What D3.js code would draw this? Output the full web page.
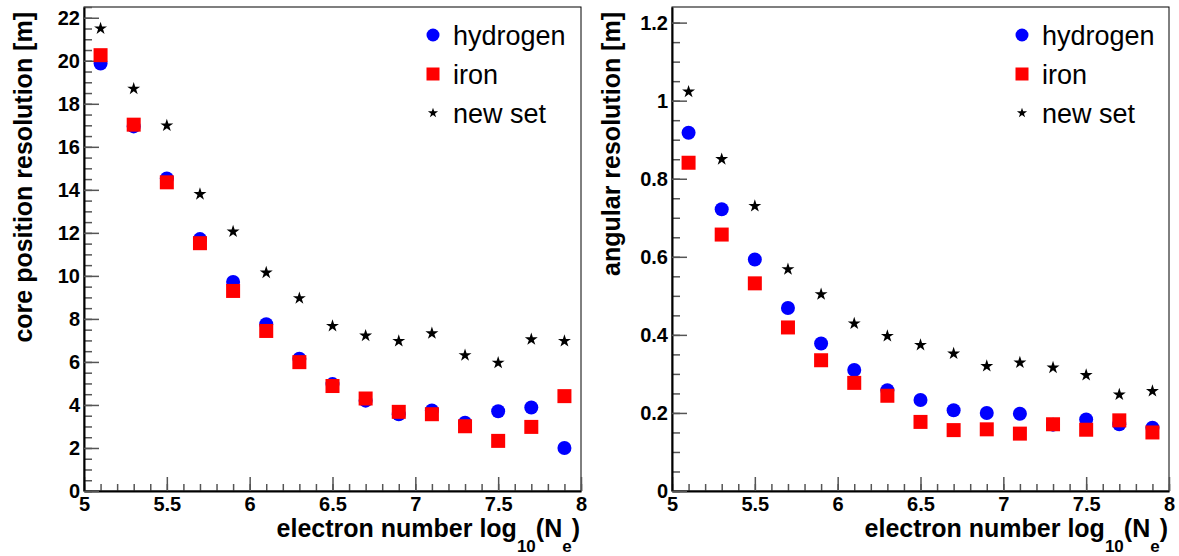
<!DOCTYPE html>
<html>
<head>
<meta charset="utf-8">
<script src="https://cdn.jsdelivr.net/npm/d3@7"></script>
<style>
body { margin: 0; background: #fff; }
svg { display: block; }
</style>
</head>
<body>
<svg id="chart" width="1179" height="556"></svg>
<script>
// log10(Ne) bins
var xVals = [5.1, 5.3, 5.5, 5.7, 5.9, 6.1, 6.3, 6.5, 6.7, 6.9, 7.1, 7.3, 7.5, 7.7, 7.9];

// core position resolution [m]
var coreHydrogen = [19.87, 16.95, 14.53, 11.71, 9.72, 7.75, 6.15, 4.97, 4.2, 3.57, 3.74, 3.17, 3.71, 3.88, 2.0];
var coreIron = [20.26, 17.03, 14.35, 11.52, 9.3, 7.44, 5.99, 4.88, 4.3, 3.68, 3.57, 3.01, 2.33, 2.98, 4.41];
var coreNewSet = [21.5, 18.7, 16.99, 13.8, 12.06, 10.15, 8.96, 7.67, 7.22, 6.97, 7.33, 6.31, 5.96, 7.05, 6.97];

// angular resolution [m]
var angHydrogen = [0.918, 0.722, 0.593, 0.469, 0.378, 0.31, 0.258, 0.233, 0.207, 0.2, 0.198, 0.17, 0.183, 0.171, 0.162];
var angIron = [0.841, 0.657, 0.532, 0.419, 0.335, 0.277, 0.244, 0.177, 0.156, 0.158, 0.147, 0.171, 0.157, 0.181, 0.15];
var angNewSet = [1.023, 0.85, 0.73, 0.568, 0.504, 0.429, 0.397, 0.374, 0.352, 0.32, 0.329, 0.316, 0.297, 0.247, 0.256];

var xTicks = [5, 5.5, 6, 6.5, 7, 7.5, 8];
var coreTicks = [0, 2, 4, 6, 8, 10, 12, 14, 16, 18, 20, 22];
var angTicks = [0, 0.2, 0.4, 0.6, 0.8, 1, 1.2];

var legendNames = ["hydrogen", "iron", "new set"];

var svg = d3.select("#chart");
var fontB = "'Liberation Sans', Arial, Helvetica, sans-serif";

var top_y = 7, bottom_y = 491, frameW = 497;

function drawPanel(x0, yMax, yTicks, yMinorStep, yTitle, hyd, fe, ns, legX) {

  var x = d3.scaleLinear().domain([5, 8]).range([x0, x0 + frameW]);
  var y = d3.scaleLinear().domain([0, yMax]).range([bottom_y, top_y]);

  var g = svg.append("g");

  // frame
  g.append("rect")
    .attr("x", x0).attr("y", top_y)
    .attr("width", frameW).attr("height", bottom_y - top_y)
    .attr("fill", "none").attr("stroke", "#000").attr("stroke-width", 1);

  // minor ticks
  var xMinor = d3.range(50, 81).map(d => d / 10);
  var yMinor = d3.range(0, Math.floor(yMax / yMinorStep) + 1).map(d => +(d * yMinorStep).toFixed(3));

  g.append("g")
    .attr("transform", "translate(0," + bottom_y + ")")
    .call(d3.axisBottom(x).tickValues(xMinor).tickFormat("").tickSize(-7).tickSizeOuter(0))
    .call(a => a.select(".domain").remove())
    .call(a => a.selectAll("line").attr("stroke", "#555").attr("stroke-width", 1.5));

  g.append("g")
    .attr("transform", "translate(" + x0 + ",0)")
    .call(d3.axisLeft(y).tickValues(yMinor).tickFormat("").tickSize(-8).tickSizeOuter(0))
    .call(a => a.select(".domain").remove())
    .call(a => a.selectAll("line").attr("stroke", "#555").attr("stroke-width", 1.5));

  // major ticks + labels
  var xAxis = g.append("g")
    .attr("transform", "translate(0," + bottom_y + ")")
    .call(d3.axisBottom(x).tickValues(xTicks).tickFormat(d3.format("~g")).tickSize(-14).tickSizeOuter(0).tickPadding(6));

  var yAxis = g.append("g")
    .attr("transform", "translate(" + x0 + ",0)")
    .call(d3.axisLeft(y).tickValues(yTicks).tickFormat(d3.format("~g")).tickSize(-15).tickSizeOuter(0).tickPadding(4));

  [xAxis, yAxis].forEach(function(a) {
    a.select(".domain").attr("stroke", "#000").attr("stroke-width", 2);
    a.selectAll("line").attr("stroke", "#555").attr("stroke-width", 1.5);
    a.selectAll("text")
      .attr("font-family", fontB).attr("font-weight", "bold")
      .attr("font-size", "20px").attr("fill", "#000");
  });
  xAxis.selectAll("text").attr("dy", "0.72em");

  // titles
  var xt = g.append("text")
    .attr("x", x0 + frameW - 1).attr("y", 537)
    .attr("text-anchor", "end")
    .attr("font-family", fontB).attr("font-weight", "bold")
    .attr("font-size", "25px");
  xt.append("tspan").text("electron number log");
  xt.append("tspan").attr("font-size", "17px").attr("dy", 15).text("10");
  xt.append("tspan").attr("dy", -15).text("(N");
  xt.append("tspan").attr("font-size", "17px").attr("dy", 15).text("e");
  xt.append("tspan").attr("dy", -15).text(")");

  g.append("text")
    .attr("transform", "translate(" + (x0 - 52) + ",12) rotate(-90)")
    .attr("text-anchor", "end")
    .attr("font-family", fontB).attr("font-weight", "bold")
    .attr("font-size", "25px")
    .text(yTitle);

  // points
  var idx = d3.range(xVals.length);

  g.append("g").selectAll("circle")
    .data(idx).enter().append("circle")
    .attr("cx", i => x(xVals[i])).attr("cy", i => y(hyd[i]))
    .attr("r", 7).attr("fill", "#0000ff");

  g.append("g").selectAll("rect")
    .data(idx).enter().append("rect")
    .attr("x", i => x(xVals[i]) - 7).attr("y", i => y(fe[i]) - 7)
    .attr("width", 14).attr("height", 14).attr("fill", "#ff0000");

  var star = d3.symbol(d3.symbolStar).size(52);
  g.append("g").selectAll("path")
    .data(idx).enter().append("path")
    .attr("transform", i => "translate(" + x(xVals[i]) + "," + y(ns[i]) + ")")
    .attr("d", star).attr("fill", "#000");

  // legend
  var legY = [35, 74, 113];
  var leg = g.append("g");
  leg.append("circle").attr("cx", legX).attr("cy", legY[0]).attr("r", 6.5).attr("fill", "#0000ff");
  leg.append("rect").attr("x", legX - 6.5).attr("y", legY[1] - 6.5).attr("width", 13).attr("height", 13).attr("fill", "#ff0000");
  leg.append("path").attr("transform", "translate(" + legX + "," + legY[2] + ")")
    .attr("d", d3.symbol(d3.symbolStar).size(32)).attr("fill", "#000");

  leg.selectAll("text")
    .data(legendNames).enter().append("text")
    .attr("x", legX + 20).attr("y", (d, i) => legY[i] + 9.5)
    .attr("font-family", fontB).attr("font-size", "27px")
    .text(d => d);
}

drawPanel(84, 22.5, coreTicks, 0.5, "core position resolution [m]", coreHydrogen, coreIron, coreNewSet, 433);
drawPanel(672, 1.24, angTicks, 0.05, "angular resolution [m]", angHydrogen, angIron, angNewSet, 1022);
</script>
</body>
</html>
